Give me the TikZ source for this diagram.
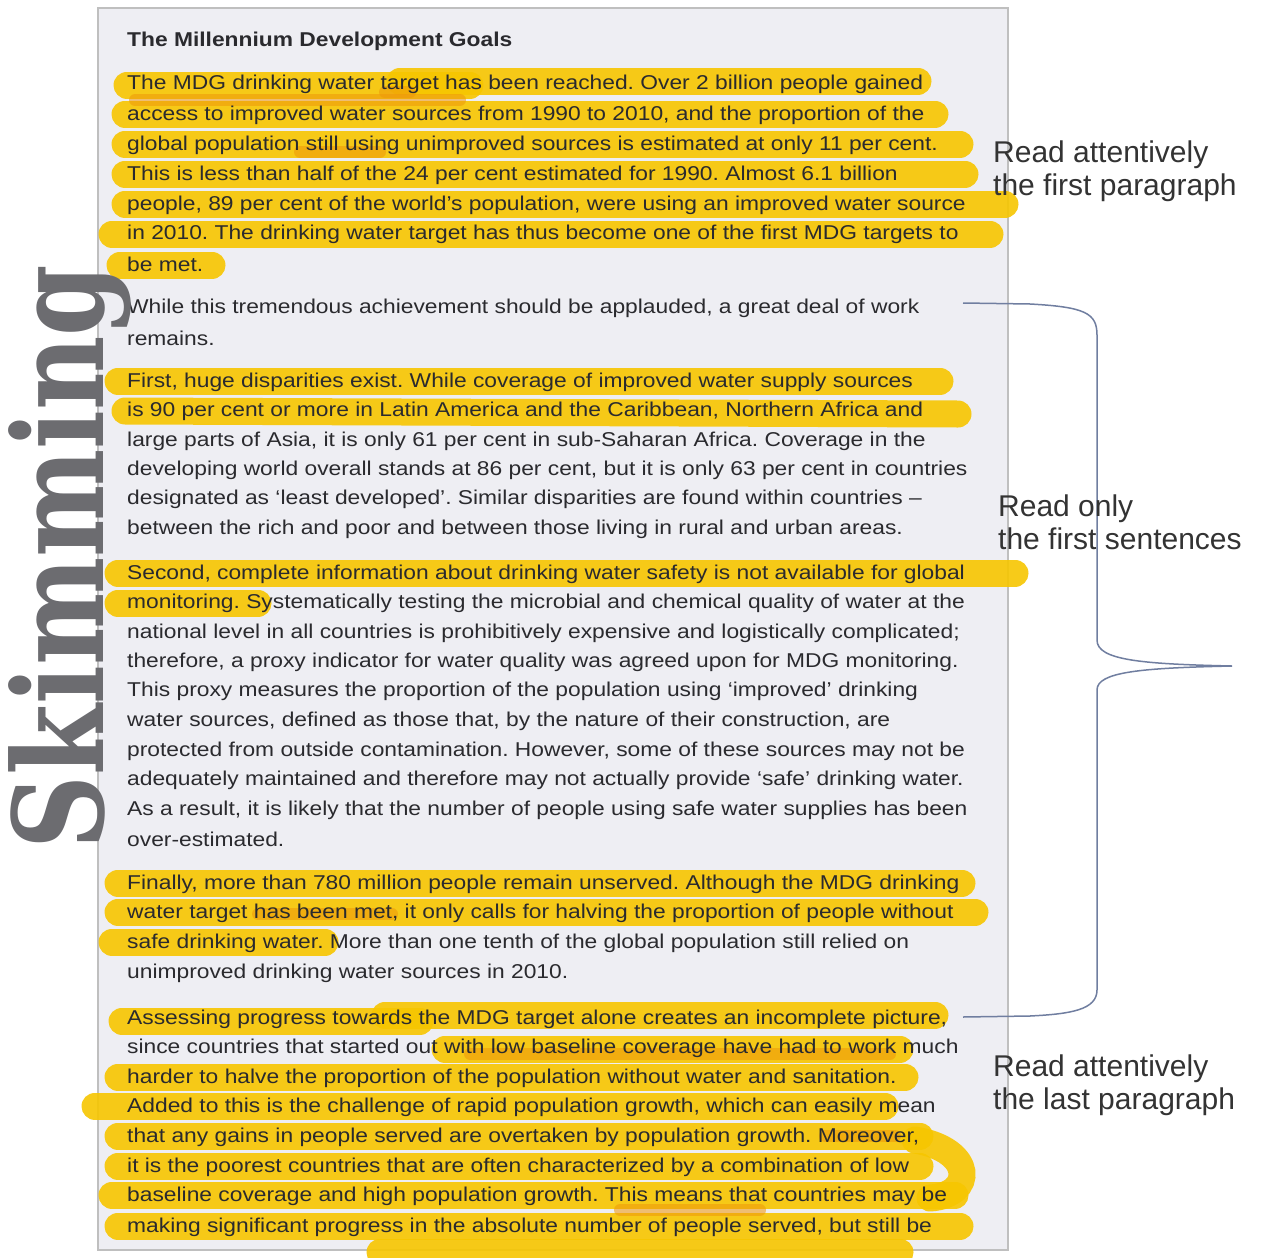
\documentclass[tikz,border=0pt]{standalone}
\usepackage{fontspec}
\usepackage{graphicx}
\setmainfont{Liberation Sans}
\newfontfamily\pagefont{Liberation Sans}[FakeStretch=1.14]
\newfontfamily\skimfont{DejaVu Serif}
\frenchspacing
\definecolor{hlyellow}{RGB}{247,198,0}
\definecolor{hlorange}{RGB}{238,150,10}
\definecolor{pagebg}{RGB}{238,238,243}
\definecolor{inkgray}{RGB}{42,42,46}
\definecolor{bracecol}{RGB}{112,126,160}
\definecolor{skimgray}{RGB}{108,108,112}
\tikzset{
  body/.style={anchor=mid west, inner sep=0pt, yshift=-4pt, text=inkgray, font=\pagefont\fontsize{20}{20}\selectfont},
  hl/.style={draw=hlyellow, line width=27pt, line cap=round, opacity=0.9},
  hlo/.style={draw=hlorange, line width=12pt, line cap=round, opacity=0.55},
  note/.style={anchor=north west, inner sep=0pt, align=left, text=black!80, font=\fontsize{30}{33}\selectfont},
  brace/.style={draw=bracecol, line width=1.5pt},
  skim/.style={rotate=90, anchor=base, inner sep=0pt, text=skimgray, font=\skimfont\bfseries\fontsize{125}{125}\selectfont}
}
\begin{document}
\begin{tikzpicture}[x=1pt,y=-1pt]
\useasboundingbox (0,0) rectangle (1280,1258);
\fill[white] (0,0) rectangle (1280,1258);
% page
\filldraw[fill=pagebg, draw=black!25, line width=1.2pt] (98,8) rectangle (1008,1250);
% highlighter
\draw[hl] (127,85)--(470,85);\draw[hl] (400,81)--(918,81);
\draw[hl] (125,114)--(935,114);
\draw[hl] (125,144)--(960,144);
\draw[hl] (125,174)--(965,174);
\draw[hl] (125,204)--(1005,204);
\draw[hl] (112,234)--(990,234);
\draw[hl] (120,265)--(212,265);
\draw[hlo] (135,100)--(460,100);\draw[hlo] (385,92)--(410,92);
\draw[hlo] (300,152)--(380,152);
\draw[hl] (118,381)--(940,381);
\draw[hl] (125,411)--(958,414);
\draw[hl] (118,573)--(1015,573);
\draw[hl] (118,603)--(258,603);
\draw[hl] (118,883)--(962,883);
\draw[hl] (118,912)--(975,912);
\draw[hl] (112,942)--(325,942);
\draw[hlo] (258,914)--(392,914);
\draw[hl] (122,1021)--(420,1021);\draw[hl] (385,1015)--(935,1015);
\draw[hl] (445,1049)--(900,1049);
\draw[hl] (118,1077)--(905,1077);
\draw[hl] (95,1106)--(885,1106);
\draw[hl] (118,1136)--(920,1136);
\draw[hl] (118,1166)--(920,1166);
\draw[hl] (915,1140) .. controls (975,1150) and (975,1195) .. (930,1198);
\draw[hl] (112,1195)--(955,1195);
\draw[hl] (118,1226)--(960,1226);
\draw[hl] (380,1252)--(900,1252);
\draw[hlo] (470,1054)--(890,1054);
\draw[hlo] (825,1136)--(895,1136);
\draw[hlo] (620,1210)--(760,1210);
% text of the page
\node[body, font=\pagefont\bfseries\fontsize{20}{20}\selectfont] (title) at (127,40) {The Millennium Development Goals};
\node[body] (pa1) at (127,83) {The MDG drinking water target has been reached. Over 2 billion people gained};
\node[body] (pa2) at (127,114) {access to improved water sources from 1990 to 2010, and the proportion of the};
\node[body] (pa3) at (127,144) {global population still using unimproved sources is estimated at only 11 per cent.};
\node[body] (pa4) at (127,174) {This is less than half of the 24 per cent estimated for 1990. Almost 6.1 billion};
\node[body] (pa5) at (127,204) {people, 89 per cent of the world’s population, were using an improved water source};
\node[body] (pa6) at (127,233) {in 2010. The drinking water target has thus become one of the first MDG targets to};
\node[body] (pa7) at (127,265) {be met.};
\node[body] (pb1) at (127,307) {While this tremendous achievement should be applauded, a great deal of work};
\node[body] (pb2) at (127,339) {remains.};
\node[body] (pc1) at (127,381) {First, huge disparities exist. While coverage of improved water supply sources};
\node[body] (pc2) at (127,410) {is 90 per cent or more in Latin America and the Caribbean, Northern Africa and};
\node[body] (pc3) at (127,440) {large parts of Asia, it is only 61 per cent in sub-Saharan Africa. Coverage in the};
\node[body] (pc4) at (127,469) {developing world overall stands at 86 per cent, but it is only 63 per cent in countries};
\node[body] (pc5) at (127,498) {designated as ‘least developed’. Similar disparities are found within countries –};
\node[body] (pc6) at (127,528) {between the rich and poor and between those living in rural and urban areas.};
\node[body] (pd1) at (127,573) {Second, complete information about drinking water safety is not available for global};
\node[body] (pd2) at (127,602) {monitoring. Systematically testing the microbial and chemical quality of water at the};
\node[body] (pd3) at (127,632) {national level in all countries is prohibitively expensive and logistically complicated;};
\node[body] (pd4) at (127,661) {therefore, a proxy indicator for water quality was agreed upon for MDG monitoring.};
\node[body] (pd5) at (127,690) {This proxy measures the proportion of the population using ‘improved’ drinking};
\node[body] (pd6) at (127,720) {water sources, defined as those that, by the nature of their construction, are};
\node[body] (pd7) at (127,750) {protected from outside contamination. However, some of these sources may not be};
\node[body] (pd8) at (127,779) {adequately maintained and therefore may not actually provide ‘safe’ drinking water.};
\node[body] (pd9) at (127,809) {As a result, it is likely that the number of people using safe water supplies has been};
\node[body] (pd10) at (127,840) {over-estimated.};
\node[body] (pe1) at (127,883) {Finally, more than 780 million people remain unserved. Although the MDG drinking};
\node[body] (pe2) at (127,912) {water target has been met, it only calls for halving the proportion of people without};
\node[body] (pe3) at (127,942) {safe drinking water. More than one tenth of the global population still relied on};
\node[body] (pe4) at (127,972) {unimproved drinking water sources in 2010.};
\node[body] (pf1) at (127,1018) {Assessing progress towards the MDG target alone creates an incomplete picture,};
\node[body] (pf2) at (127,1047) {since countries that started out with low baseline coverage have had to work much};
\node[body] (pf3) at (127,1077) {harder to halve the proportion of the population without water and sanitation.};
\node[body] (pf4) at (127,1106) {Added to this is the challenge of rapid population growth, which can easily mean};
\node[body] (pf5) at (127,1136) {that any gains in people served are overtaken by population growth. Moreover,};
\node[body] (pf6) at (127,1166) {it is the poorest countries that are often characterized by a combination of low};
\node[body] (pf7) at (127,1195) {baseline coverage and high population growth. This means that countries may be};
\node[body] (pf8) at (127,1226) {making significant progress in the absolute number of people served, but still be};
% brace
\coordinate (bracetop) at (963,303);
\coordinate (bracetip) at (1232,666);
\coordinate (bracebot) at (963,1017);
\draw[brace] (bracetop) -- (1030,304) .. controls (1085,307) and (1097,313) .. (1097,335) -- (1097,640)
  .. controls (1097,660) and (1140,664) .. (bracetip) .. controls (1140,668) and (1097,672) .. (1097,690)
  -- (1097,990) .. controls (1097,1010) and (1070,1014) .. (1030,1016) -- (bracebot);
% notes
\node[note] (readfirst) at (993,141) {Read attentively\\the first paragraph};
\node[note] (readonly) at (998,495) {Read only\\the first sentences};
\node[note] (readlast) at (993,1055) {Read attentively\\the last paragraph};
% title on the side
\node[skim] (skimming) at (103,557) {\resizebox{585pt}{\height}{Skimming}};
\end{tikzpicture}
\end{document}
